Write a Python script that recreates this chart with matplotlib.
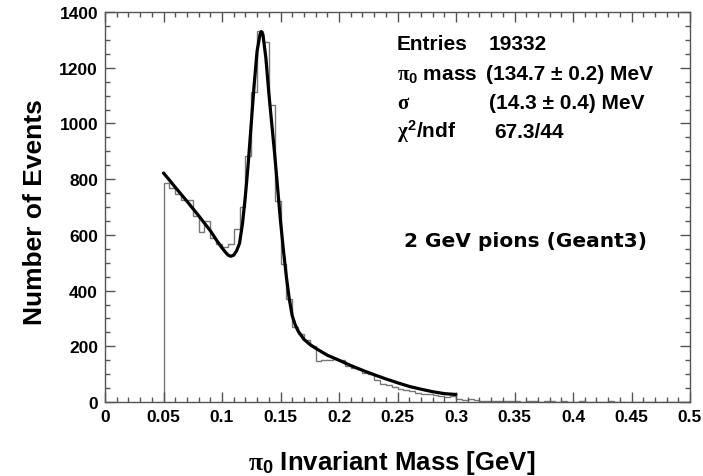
import matplotlib
matplotlib.use('Agg')
import matplotlib.pyplot as plt
import numpy as np
from matplotlib.ticker import MultipleLocator, FuncFormatter

plt.rcParams['font.family'] = ['Liberation Sans', 'DejaVu Sans']
plt.rcParams['font.weight'] = 'bold'
plt.rcParams['mathtext.fontset'] = 'custom'
plt.rcParams['mathtext.rm'] = 'Liberation Sans:bold'
plt.rcParams['mathtext.bf'] = 'Liberation Sans:bold'
plt.rcParams['mathtext.sf'] = 'Liberation Sans:bold'
plt.rcParams['mathtext.it'] = 'Liberation Serif'

# ---- histogram (bin width 0.005 GeV starting at 0.05 GeV) ----
bin_low = 0.05
bin_width = 0.005
counts = [785, 767, 747, 726, 726, 669, 609, 651, 590, 567,
          555, 567, 621, 700, 884, 1114, 1333, 1291, 1066, 723,
          495, 368, 268, 244, 224, 202, 148, 150, 152, 155,
          150, 130, 122, 118, 105, 100, 78, 66, 60, 55,
          48, 44, 38, 34, 30, 28, 24, 22, 18, 20,
          12, 6, 9, 8, 3, 4, 2, 5, 3, 2,
          4, 1, 3, 2, 1, 2, 3, 1, 2, 1,
          0, 2, 1, 1, 0, 1, 2, 0, 1, 1,
          0, 1, 0, 1, 0, 0, 1, 0, 0, 0]

# ---- fit curve ----
fit_x = [0.050, 0.055, 0.060, 0.065, 0.070, 0.075, 0.080, 0.085, 0.090, 0.095,
         0.100, 0.1025, 0.105, 0.1075, 0.110, 0.1125, 0.115, 0.1175, 0.120, 0.1225,
         0.125, 0.1275, 0.130, 0.1325, 0.1335, 0.135, 0.1375, 0.140, 0.1425, 0.145,
         0.1475, 0.150, 0.1525, 0.155, 0.1575, 0.160, 0.1625, 0.165, 0.170, 0.175,
         0.180, 0.190, 0.200, 0.210, 0.220, 0.230, 0.240, 0.250, 0.260, 0.270,
         0.280, 0.290, 0.300]
fit_y = [822, 797, 771, 746, 721, 695, 669, 642, 615, 583,
         553, 540, 528, 523, 527, 543, 570, 640, 740, 860,
         1000, 1140, 1260, 1320, 1330, 1318, 1235, 1110, 1000, 890,
         770, 650, 545, 450, 370, 310, 278, 255, 225, 207,
         193, 168, 150, 131, 114, 98, 83, 69, 56, 46,
         37, 30, 27]

x_ticks = [0, 0.05, 0.1, 0.15, 0.2, 0.25, 0.3, 0.35, 0.4, 0.45, 0.5]
y_ticks = [0, 200, 400, 600, 800, 1000, 1200, 1400]

stat_labels = ['Entries', r'$\pi_{0}$ mass', r'$\sigma$', r'$\chi^{2}$/ndf']
stat_values = ['19332', '(134.7 \u00b1 0.2) MeV', '(14.3 \u00b1 0.4) MeV', '67.3/44']
stat_value_x = [0.328, 0.326, 0.328, 0.333]
stat_y = [1267, 1160, 1056, 952]

W, H = 703, 477
fig = plt.figure(figsize=(W / 100, H / 100), dpi=100)
ax = fig.add_axes([105 / W, 74 / H, 585 / W, 390 / H])

edges = bin_low + bin_width * np.arange(len(counts) + 1)
ax.stairs(counts, edges, baseline=0, color='#777777', lw=1.0)
ax.plot(fit_x, fit_y, color='black', lw=2.3, solid_capstyle='round', solid_joinstyle='round')

ax.set_xlim(0, 0.5)
ax.set_ylim(0, 1400)
ax.set_xticks(x_ticks)
ax.set_yticks(y_ticks)
ax.xaxis.set_minor_locator(MultipleLocator(0.01))
ax.yaxis.set_minor_locator(MultipleLocator(50))
ax.xaxis.set_major_formatter(FuncFormatter(lambda v, p: '%g' % v))
ax.tick_params(which='both', direction='in', top=True, right=True, color='#555555', width=1.0)
ax.tick_params(which='major', length=7.2, labelsize=12.5, pad=5)
ax.tick_params(which='minor', length=3.6)
for lab in ax.get_xticklabels() + ax.get_yticklabels():
    lab.set_fontweight('bold')
for s in ax.spines.values():
    s.set_color('#555555')
    s.set_linewidth(1.0)

ax.set_xlabel(r'$\pi_{0}$ Invariant Mass [GeV]', fontsize=18.5, fontweight='bold')
ax.set_ylabel('Number of Events', fontsize=19, fontweight='bold')
ax.xaxis.set_label_coords(0.49, -0.118)
ax.yaxis.set_label_coords(-0.10, 0.49)

for lab, val, vx, vy in zip(stat_labels, stat_values, stat_value_x, stat_y):
    ax.text(0.2496, vy, lab, fontsize=15, fontweight='bold', va='baseline', ha='left')
    ax.text(vx, vy, val, fontsize=15, fontweight='bold', va='baseline', ha='left')

ax.text(0.359, 578, '2 GeV pions (Geant3)', fontsize=14.5, fontweight='bold',
        family=['DejaVu Sans'], ha='center', va='center')

fig.savefig('out.png', dpi=100)
